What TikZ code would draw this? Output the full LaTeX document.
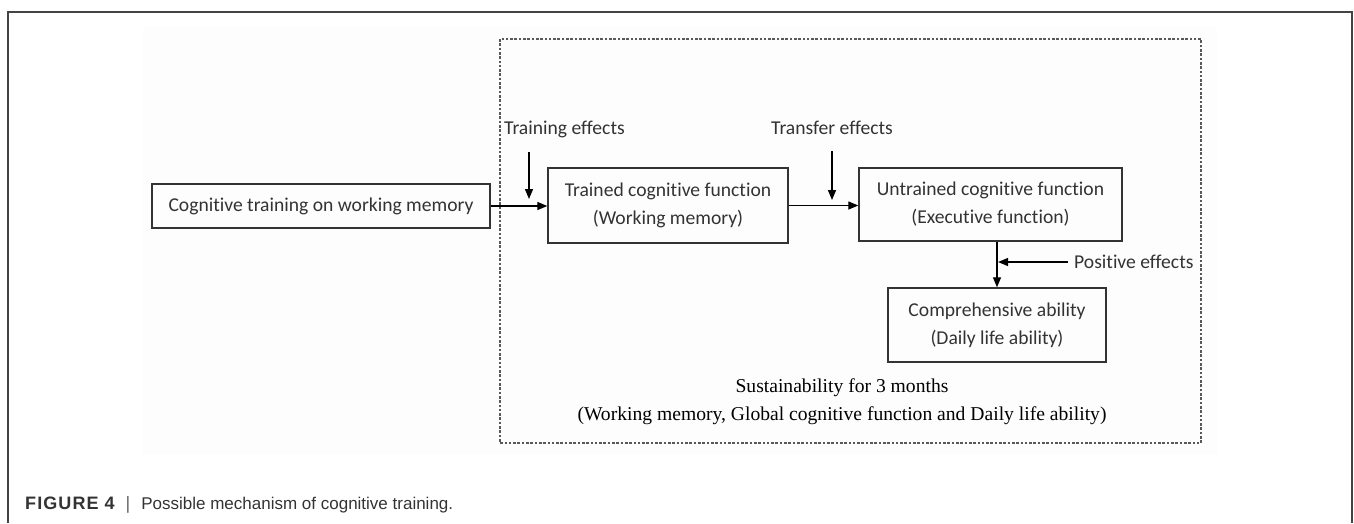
\documentclass[tikz,border=0pt]{standalone}
\usepackage{fontspec}
\setmainfont{Carlito}[Ligatures={NoCommon,NoContextual}]
\newfontfamily\timesf{Liberation Serif}
\newfontfamily\capf{Liberation Sans}
\usetikzlibrary{arrows.meta}
\definecolor{ink}{HTML}{333333}
\definecolor{frame}{HTML}{444444}
\tikzset{
  box/.style={draw=ink, line width=1.4pt, align=center, inner sep=0pt,
    text=ink, font=\fontsize{19.6}{28}\selectfont},
  lbl/.style={text=ink, font=\fontsize{19.6}{24}\selectfont, inner sep=0pt},
  arr/.style={draw=black, line width=1.3pt, -{Triangle[length=10pt,width=8pt]}},
  dashbox/.style={draw=gray!70!black, line width=1.3pt, dash pattern=on 2.6pt off 1.7pt},
}
\begin{document}
\begin{tikzpicture}[x=1pt,y=-1pt]
\useasboundingbox (0,0) rectangle (1354,523);
% faint background of the figure image
\fill[gray!1.5] (143,27) rectangle (1217,455);
% outer frame
\draw[frame, line width=1.5pt] (8,523) -- (8,12) -- (1352,12) -- (1352,523);
% dashed region
\draw[dashbox] (500,39) rectangle (1201,443);
% boxes
\node[box, minimum width=338pt, minimum height=44pt] (b1) at (321,206) {Cognitive training on working memory};
\node[box, minimum width=240pt, minimum height=75pt] (b2) at (668,205.5) {Trained cognitive function\\(Working memory)};
\node[box, minimum width=263pt, minimum height=73pt] (b3) at (990.5,204.5) {Untrained cognitive function\\(Executive function)};
\node[box, minimum width=218pt, minimum height=74pt] (b4) at (997,325) {Comprehensive ability\\(Daily life ability)};
% main connectors
\draw[arr] (b1.east) -- (b1.east -| b2.west);
\draw[arr] (b2.east) -- (b2.east -| b3.west);
\draw[arr] (b4.north |- b3.south) -- (b4.north);
% effect labels
\node[lbl, anchor=west] (te) at (504,129) {Training effects};
\coordinate (t1) at (529,152);
\coordinate (t2) at (529,199);
\draw[arr] (t1) -- (t2);
\node[lbl] (tr) at (832,128) {Transfer effects};
\coordinate (r1) at (832,151);
\coordinate (r2) at (832,200);
\draw[arr] (r1) -- (r2);
\node[lbl, anchor=west] (pe) at (1074,262) {Positive effects};
\coordinate (p1) at (1068,262);
\coordinate (p2) at (998,262);
\draw[arr] (p1) -- (p2);
% sustainability text
\node[align=center, inner sep=0pt, font=\timesf\fontsize{19.6}{28}\selectfont] (sus) at (842,402)
  {Sustainability for 3 months\\(Working memory, Global cognitive function and Daily life ability)};
% caption
\node[anchor=west, inner sep=0pt, text=ink, font=\capf\fontsize{17}{19}\selectfont] (cap) at (25,505)
  {{\fontsize{18}{19}\selectfont\bfseries\addfontfeature{LetterSpace=6}FIGURE 4}\hspace{11pt}{\color{gray!80!black}\fontsize{18}{19}\selectfont|}\hspace{11pt}Possible mechanism of cognitive training.};
\end{tikzpicture}
\end{document}
